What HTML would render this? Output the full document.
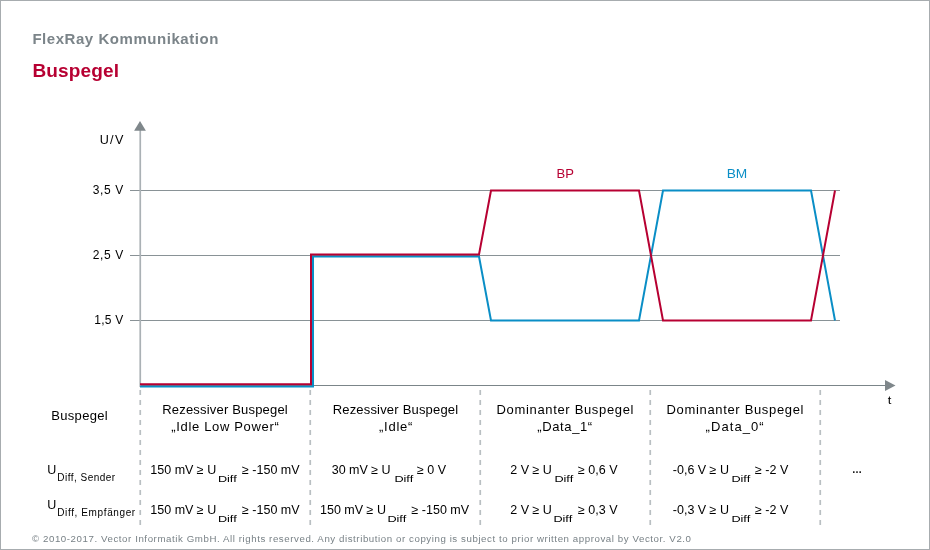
<!DOCTYPE html>
<html lang="de">
<head>
<meta charset="utf-8">
<title>FlexRay Kommunikation – Buspegel</title>
<style>
html,body{margin:0;padding:0;background:#fff;}
body{width:930px;height:550px;overflow:hidden;}
svg{display:block;will-change:transform;}
text{font-family:"Liberation Sans",Arial,sans-serif;}
</style>
</head>
<body>
<svg width="930" height="550" viewBox="0 0 930 550">
  <rect x="0" y="0" width="930" height="550" fill="#fff"/>
  <rect x="0.5" y="0.5" width="929" height="549" fill="none" stroke="#a7acaf" stroke-width="1"/>

  <!-- titles -->
  <text x="32.4" y="43.8" font-size="15" font-weight="bold" fill="#7b8489" textLength="186" lengthAdjust="spacing">FlexRay Kommunikation</text>
  <text x="32.5" y="76.7" font-size="19" font-weight="bold" fill="#b70032" textLength="86.5" lengthAdjust="spacing">Buspegel</text>

  <!-- y labels -->
  <g font-size="12" fill="#000" text-anchor="end">
    <text x="123.3" y="143.7" font-size="12.6" textLength="23.6" lengthAdjust="spacing">U/V</text>
    <text x="123.3" y="194" textLength="30.5" lengthAdjust="spacing">3,5 V</text>
    <text x="123.3" y="259" textLength="30.5" lengthAdjust="spacing">2,5 V</text>
    <text x="123.3" y="324" textLength="29" lengthAdjust="spacing">1,5 V</text>
  </g>

  <!-- grid lines -->
  <g stroke="#899296" stroke-width="1">
    <line x1="130" y1="190.5" x2="840" y2="190.5"/>
    <line x1="130" y1="255.5" x2="840" y2="255.5"/>
    <line x1="130" y1="320.5" x2="840" y2="320.5"/>
  </g>

  <!-- x axis -->
  <line x1="140" y1="385.5" x2="886" y2="385.5" stroke="#7b8589" stroke-width="1"/>
  <polygon points="885,380 895.5,385.5 885,391" fill="#7f878b"/>
  <!-- y axis -->
  <line x1="140.25" y1="130" x2="140.25" y2="387" stroke="#aab1b5" stroke-width="1.7"/>
  <polygon points="134.1,130.8 140,121 145.9,130.8" fill="#7f878b"/>

  <!-- dashed column separators -->
  <g stroke="#b9bfc2" stroke-width="1.7" stroke-dasharray="5 5">
    <line x1="140.25" y1="390" x2="140.25" y2="526"/>
    <line x1="310.25" y1="390" x2="310.25" y2="526"/>
    <line x1="480.25" y1="390" x2="480.25" y2="526"/>
    <line x1="650.25" y1="390" x2="650.25" y2="526"/>
    <line x1="820.25" y1="390" x2="820.25" y2="526"/>
  </g>

  <!-- signals -->
  <g fill="none" stroke-width="2" stroke-linejoin="miter">
    <polyline stroke="#0a8ec6" points="140,386.5 313,386.5 313,256.5 479,256.5 491,320.5 639,320.5 663,190.5 811,190.5 835,320.5"/>
    <polyline stroke="#b70032" points="140,384.3 311,384.3 311,254.55 479,254.55 491,190.5 639,190.5 663,320.5 811,320.5 835,190.5"/>
  </g>

  <!-- signal labels -->
  <text x="565.3" y="177.7" font-size="12" fill="#b70032" text-anchor="middle" textLength="17.4" lengthAdjust="spacingAndGlyphs">BP</text>
  <text x="737" y="177.7" font-size="12" fill="#0a8ec6" text-anchor="middle" textLength="20.6" lengthAdjust="spacingAndGlyphs">BM</text>
  <text x="889.6" y="403.9" font-size="10.5" fill="#000" text-anchor="middle" textLength="3.6" lengthAdjust="spacingAndGlyphs">t</text>

  <!-- table -->
  <g font-size="13" fill="#000">
    <text x="51.2" y="420" textLength="56.5" lengthAdjust="spacing">Buspegel</text>

    <g text-anchor="middle">
      <text x="225" y="414.1" textLength="125.5" lengthAdjust="spacing">Rezessiver Buspegel</text>
      <text x="225" y="430.7" textLength="107.5" lengthAdjust="spacing">„Idle Low Power“</text>
      <text x="395.4" y="414.1" textLength="125.5" lengthAdjust="spacing">Rezessiver Buspegel</text>
      <text x="395.7" y="430.7" textLength="33.5" lengthAdjust="spacing">„Idle“</text>
      <text x="565" y="414.1" textLength="137" lengthAdjust="spacing">Dominanter Buspegel</text>
      <text x="564.7" y="430.7" textLength="55" lengthAdjust="spacing">„Data_1“</text>
      <text x="735" y="414.1" textLength="137" lengthAdjust="spacing">Dominanter Buspegel</text>
      <text x="734.6" y="430.7" textLength="58" lengthAdjust="spacing">„Data_0“</text>
    </g>

    <!-- row labels -->
    <text x="47.3" y="473.7" font-size="12.5">U</text>
    <text x="57.2" y="480.8" font-size="10" textLength="58" lengthAdjust="spacing">Diff, Sender</text>
    <text x="47.3" y="508.5" font-size="12.5">U</text>
    <text x="57.2" y="515.6" font-size="10" textLength="78" lengthAdjust="spacing">Diff, Empfänger</text>

    <!-- row 1 -->
    <text x="150.3" y="474" font-size="12.5">150 mV ≥ U</text>
    <text x="217.9" y="481.9" font-size="9.4" textLength="18.8" lengthAdjust="spacingAndGlyphs">Diff</text>
    <text x="242" y="474" font-size="12.5">≥ -150 mV</text>

    <text x="331.7" y="474" font-size="12.5">30 mV ≥ U</text>
    <text x="394.4" y="481.9" font-size="9.4" textLength="18.8" lengthAdjust="spacingAndGlyphs">Diff</text>
    <text x="417" y="474" font-size="12.5">≥ 0 V</text>

    <text x="510.3" y="474" font-size="12.5">2 V ≥ U</text>
    <text x="554.4" y="481.9" font-size="9.4" textLength="18.8" lengthAdjust="spacingAndGlyphs">Diff</text>
    <text x="578" y="474" font-size="12.5">≥ 0,6 V</text>

    <text x="672.8" y="474" font-size="12.5">-0,6 V ≥ U</text>
    <text x="731.4" y="481.9" font-size="9.4" textLength="18.8" lengthAdjust="spacingAndGlyphs">Diff</text>
    <text x="755" y="474" font-size="12.5">≥ -2 V</text>

    <text x="857" y="473" font-size="10" font-weight="bold" text-anchor="middle">…</text>

    <!-- row 2 -->
    <text x="150.3" y="514" font-size="12.5">150 mV ≥ U</text>
    <text x="217.9" y="521.5" font-size="9.4" textLength="18.8" lengthAdjust="spacingAndGlyphs">Diff</text>
    <text x="242" y="514" font-size="12.5">≥ -150 mV</text>

    <text x="320" y="514" font-size="12.5">150 mV ≥ U</text>
    <text x="387.4" y="521.5" font-size="9.4" textLength="18.8" lengthAdjust="spacingAndGlyphs">Diff</text>
    <text x="411.5" y="514" font-size="12.5">≥ -150 mV</text>

    <text x="510.3" y="514" font-size="12.5">2 V ≥ U</text>
    <text x="553.4" y="521.5" font-size="9.4" textLength="18.8" lengthAdjust="spacingAndGlyphs">Diff</text>
    <text x="578" y="514" font-size="12.5">≥ 0,3 V</text>

    <text x="672.8" y="514" font-size="12.5">-0,3 V ≥ U</text>
    <text x="731.4" y="521.5" font-size="9.4" textLength="18.8" lengthAdjust="spacingAndGlyphs">Diff</text>
    <text x="755" y="514" font-size="12.5">≥ -2 V</text>
  </g>

  <!-- footer -->
  <text x="32" y="541.8" font-size="9.7" fill="#788186" textLength="659" lengthAdjust="spacing">© 2010-2017. Vector Informatik GmbH. All rights reserved. Any distribution or copying is subject to prior written approval by Vector. V2.0</text>
</svg>
</body>
</html>
